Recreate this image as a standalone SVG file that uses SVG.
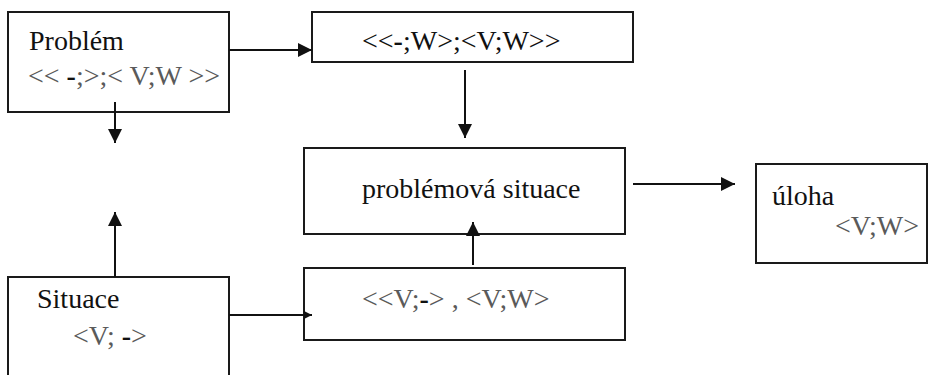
<svg xmlns="http://www.w3.org/2000/svg" width="928" height="375" viewBox="0 0 928 375">
<style>
.box{fill:#fff;stroke:#1a1a1a;stroke-width:2}
.t{font-family:"Liberation Serif","Times New Roman",serif;font-size:28px;fill:#111}
.g{fill:#5a5a5a}
.d{fill:#111;font-weight:bold}
.c{fill:none;stroke:#111;stroke-width:2}
</style>
<defs>
<marker id="ah" markerUnits="userSpaceOnUse" markerWidth="14" markerHeight="14" refX="14" refY="7" orient="auto">
<path d="M0,0 L14,7 L0,14 z" fill="#111"/>
</marker>
<marker id="ahs" markerUnits="userSpaceOnUse" markerWidth="8" markerHeight="8" refX="8" refY="4" orient="auto">
<path d="M0,0 L8,4 L0,8 z" fill="#111"/>
</marker>
</defs>
<rect width="928" height="375" fill="#fff"/>
<g id="problem">
<rect class="box" x="8" y="12" width="221" height="100"/>
<text class="t" x="29" y="50">Problém</text>
<text class="t g" x="28" y="85">&lt;&lt; <tspan class="d">-</tspan>;&gt;;&lt; V;W &gt;&gt;</text>
</g>
<g id="box2">
<rect class="box" x="312" y="12" width="321" height="50"/>
<text class="t" x="362" y="50">&lt;&lt;<tspan class="d">-</tspan>;W&gt;;&lt;V;W&gt;&gt;</text>
</g>
<g id="problemova-situace">
<rect class="box" x="304" y="148" width="321" height="86"/>
<text class="t" x="362" y="198">problémová situace</text>
</g>
<g id="box4">
<rect class="box" x="304" y="268" width="321" height="72"/>
<text class="t g" x="362" y="308">&lt;&lt;V;<tspan class="d">-</tspan>&gt; , &lt;V;W&gt;</text>
</g>
<g id="situace">
<rect class="box" x="8" y="277" width="221" height="120"/>
<text class="t" x="37" y="308">Situace</text>
<text class="t g" x="73" y="345">&lt;V; <tspan class="d">-</tspan>&gt;</text>
</g>
<g id="uloha">
<rect class="box" x="756" y="164" width="171" height="99"/>
<text class="t" x="772" y="205">úloha</text>
<text class="t g" x="835" y="235">&lt;V;W&gt;</text>
</g>
<g id="connectors">
<path class="c" d="M229,50 H312" marker-end="url(#ah)"/>
<path class="c" d="M115,102 V143" marker-end="url(#ah)"/>
<path class="c" d="M465,70 V138" marker-end="url(#ah)"/>
<path class="c" d="M115,277 V212" marker-end="url(#ah)"/>
<path class="c" d="M229,315 H312" marker-end="url(#ahs)"/>
<path class="c" d="M473,265 V222" marker-end="url(#ah)"/>
<path class="c" d="M633,184 H735" marker-end="url(#ah)"/>
</g>
</svg>
